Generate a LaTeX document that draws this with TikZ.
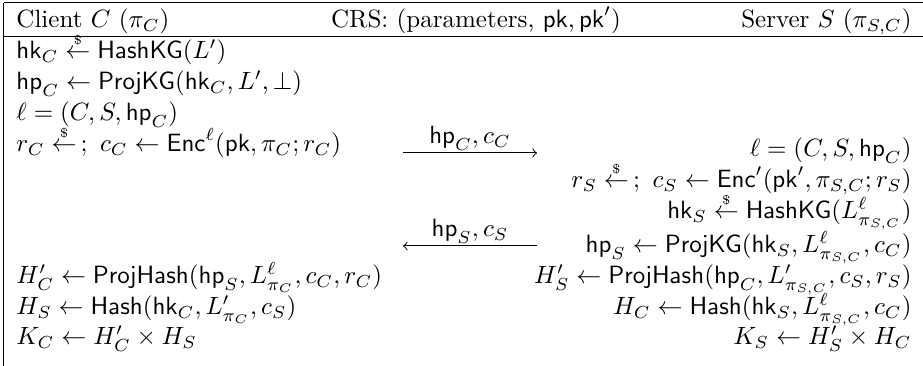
\documentclass[tikz,border=0pt]{standalone}
\usepackage{tikz}
\usepackage{amsmath,amsfonts,amssymb}
\usepackage{xcolor}

\newcommand{\rnd}{\stackrel{\scriptscriptstyle\$}{\leftarrow}}

\begin{document}
\begin{tikzpicture}[x=0.4pt,y=-0.4pt,every node/.style={inner sep=0pt}]
\useasboundingbox (0,0) rectangle (923,366);
% frame
\draw[black] (4,3) -- (923,3);
\draw[black] (4,37) -- (923,37);
\draw[black] (4,3) -- (4,366);
% header
\node[anchor=base west] (client) at (16,28) {Client $C$ ($\pi_C$)};
\node[anchor=base] (crs) at (476,28) {CRS: (parameters, $\mathsf{pk},\mathsf{pk}'$)};
\node[anchor=base east] (server) at (912,28) {Server $S$ ($\pi_{S,C}$)};
% client side
\node[anchor=base west] (hkc) at (16,59) {$\mathsf{hk}_C \rnd \mathsf{HashKG}(L')$};
\node[anchor=base west] (hpc) at (16,90) {$\mathsf{hp}_C \leftarrow \mathsf{ProjKG}(\mathsf{hk}_C,L',\bot)$};
\node[anchor=base west] (lc) at (16,121) {$\ell = (C,S,\mathsf{hp}_C)$};
\node[anchor=base west] (rc) at (16,152) {$r_C \rnd\,;\ c_C \leftarrow \mathsf{Enc}^\ell(\mathsf{pk},\pi_C;r_C)$};
\node[anchor=base west] (hpcc) at (16,284) {$H'_C \leftarrow \mathsf{ProjHash}(\mathsf{hp}_S,L^\ell_{\pi_C},c_C,r_C)$};
\node[anchor=base west] (hs) at (16,315) {$H_S \leftarrow \mathsf{Hash}(\mathsf{hk}_C,L'_{\pi_C},c_S)$};
\node[anchor=base west] (kc) at (16,345) {$K_C \leftarrow H'_C \times H_S$};
% server side
\node[anchor=base east] (ls) at (912,157) {$\ell = (C,S,\mathsf{hp}_C)$};
\node[anchor=base east] (rs) at (912,188) {$r_S \rnd\,;\ c_S \leftarrow \mathsf{Enc}'(\mathsf{pk}',\pi_{S,C};r_S)$};
\node[anchor=base east] (hks) at (912,219) {$\mathsf{hk}_S \rnd \mathsf{HashKG}(L^\ell_{\pi_{S,C}})$};
\node[anchor=base east] (hps) at (912,253) {$\mathsf{hp}_S \leftarrow \mathsf{ProjKG}(\mathsf{hk}_S,L^\ell_{\pi_{S,C}},c_C)$};
\node[anchor=base east] (hpss) at (912,284) {$H'_S \leftarrow \mathsf{ProjHash}(\mathsf{hp}_C,L'_{\pi_{S,C}},c_S,r_S)$};
\node[anchor=base east] (hc) at (912,315) {$H_C \leftarrow \mathsf{Hash}(\mathsf{hk}_S,L^\ell_{\pi_{S,C}},c_C)$};
\node[anchor=base east] (ks) at (912,345) {$K_S \leftarrow H'_S \times H_C$};
% messages
\coordinate (m1a) at (403,153);
\coordinate (m1b) at (537,153);
\coordinate (m2a) at (537,246);
\coordinate (m2b) at (403,246);
\node[anchor=base] (msg1) at (470,144) {$\mathsf{hp}_C,c_C$};
\node[anchor=base] (msg2) at (470,237) {$\mathsf{hp}_S,c_S$};
\draw[black,->] (m1a) -- (m1b);
\draw[black,->] (m2a) -- (m2b);
\end{tikzpicture}
\end{document}
